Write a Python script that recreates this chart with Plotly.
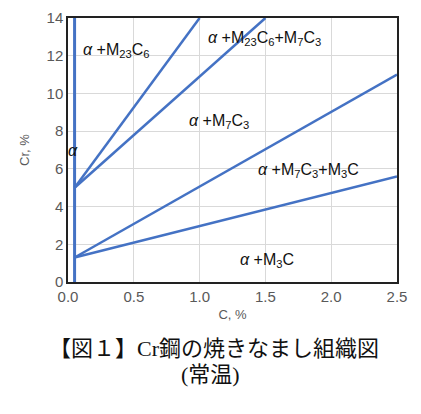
import plotly.graph_objects as go

# phase boundary lines (C %, Cr %)
alpha_x = [0.05, 0.05]
alpha_y = [0, 14]
m23_x = [0.05, 1.0]
m23_y = [5.0, 14.0]
m7_upper_x = [0.05, 1.5]
m7_upper_y = [5.0, 14.0]
m7_lower_x = [0.05, 2.5]
m7_lower_y = [1.3, 11.0]
m3c_x = [0.05, 2.5]
m3c_y = [1.3, 5.6]

# region labels
label_text = ["<i>α</i> +M<sub>23</sub>C<sub>6</sub>",
              "<i>α</i> +M<sub>23</sub>C<sub>6</sub>+M<sub>7</sub>C<sub>3</sub>",
              "<i>α</i> +M<sub>7</sub>C<sub>3</sub>",
              "<i>α</i> +M<sub>7</sub>C<sub>3</sub>+M<sub>3</sub>C",
              "<i>α</i> +M<sub>3</sub>C"]
label_x = [0.37, 1.49, 1.15, 1.83, 1.51]
label_y = [12.3, 12.9, 8.5, 5.9, 1.15]

x_ticks = [0.0, 0.5, 1.0, 1.5, 2.0, 2.5]
y_ticks = [0, 2, 4, 6, 8, 10, 12, 14]

BLUE = "#4472C4"
LABEL_FONT = dict(size=16, color="#111111", family="Liberation Sans, Noto Sans CJK JP")
CAPTION_FONT = dict(size=22, color="#111111", family="Liberation Serif, Noto Sans CJK JP")

fig = go.Figure()
for xs, ys, w in [(alpha_x, alpha_y, 3), (m23_x, m23_y, 2.5), (m7_upper_x, m7_upper_y, 2.5),
                  (m7_lower_x, m7_lower_y, 2.5), (m3c_x, m3c_y, 2.5)]:
    fig.add_trace(go.Scatter(x=xs, y=ys, mode="lines", line=dict(color=BLUE, width=w),
                             showlegend=False, hoverinfo="skip"))

for t, x, y in zip(label_text, label_x, label_y):
    fig.add_annotation(x=x, y=y, text=t, showarrow=False, font=LABEL_FONT)

# lone alpha region label on the solubility line
fig.add_annotation(xref="paper", x=-0.006, y=7.0, text="<i>α</i>", showarrow=False, font=LABEL_FONT)

axis = dict(showline=True, linecolor="#222222", linewidth=1.5, mirror=True,
            gridcolor="#d9d9d9", gridwidth=1, zeroline=False, ticks="", automargin=False,
            tickfont=dict(size=15, color="#595959"))

# page body has an 8px default margin, so the plot margins are shifted to compensate
fig.update_layout(
    width=421, height=414,
    margin=dict(l=60, r=32, t=10, b=140),
    paper_bgcolor="white", plot_bgcolor="white",
    font=dict(family="Liberation Sans, Noto Sans CJK JP", color="#595959"),
    xaxis=dict(range=[0, 2.5], tickvals=x_ticks, tickformat=".1f",
               title=dict(text="C, %", font=dict(size=13, color="#595959"), standoff=6), **axis),
    yaxis=dict(range=[0, 14], tickvals=y_ticks,
               title=dict(text="Cr, %", font=dict(size=13, color="#595959"), standoff=14), **axis),
)

fig.add_annotation(xref="paper", yref="paper", x=0.444, y=-0.25, yanchor="middle",
                   text="【図１】Cr鋼の焼きなまし組織図", showarrow=False, font=CAPTION_FONT)
fig.add_annotation(xref="paper", yref="paper", x=0.432, y=-0.352, yanchor="middle",
                   text="(常温)", showarrow=False, font=CAPTION_FONT)

fig.write_html("out.html")
